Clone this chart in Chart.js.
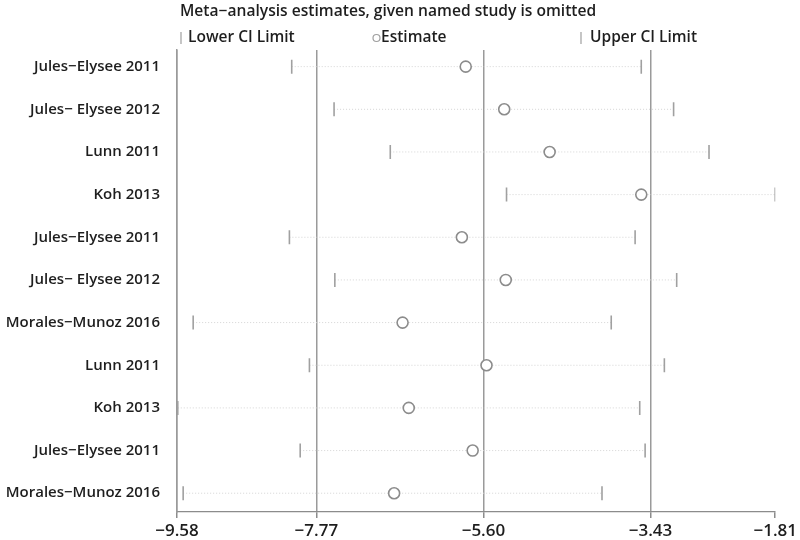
<!DOCTYPE html>
<html>
<head>
<meta charset="utf-8">
<script src="https://cdn.jsdelivr.net/npm/chart.js@4.4.1/dist/chart.umd.min.js"></script>
<style>
    html, body { margin: 0; padding: 0; background: #ffffff; }
    #wrap { width: 800px; height: 540px; }
</style>
</head>
<body>
<div id="wrap"><canvas id="chart" width="800" height="540"></canvas></div>
<script>
const studies = [
    "Jules−Elysee 2011", "Jules− Elysee 2012", "Lunn 2011", "Koh 2013",
    "Jules−Elysee 2011", "Jules− Elysee 2012", "Morales−Munoz 2016", "Lunn 2011",
    "Koh 2013", "Jules−Elysee 2011", "Morales−Munoz 2016"
];
const lowerCI = [-8.09, -7.54, -6.81, -5.30, -8.12, -7.53, -9.37, -7.86, -9.57, -7.98, -9.50];
const estimate = [-5.83, -5.33, -4.74, -3.55, -5.88, -5.31, -6.65, -5.56, -6.57, -5.74, -6.76];
const upperCI = [-3.55, -3.13, -2.67, -1.81, -3.63, -3.09, -3.94, -3.25, -3.57, -3.50, -4.06];
const xTicks = [-9.58, -7.77, -5.60, -3.43, -1.81];
const refLines = [-9.58, -7.77, -5.60, -3.43];

const FONT = "'Open Sans', 'DejaVu Sans', sans-serif";
const GRAY = "#8c8c8c";

// dotted span per row, broken by null points
const spanData = [];
studies.forEach((s, i) => {
    spanData.push({ x: lowerCI[i], y: i });
    spanData.push({ x: upperCI[i], y: i });
    spanData.push({ x: upperCI[i], y: null });
});

const headerPlugin = {
    id: "header",
    afterDraw(chart) {
        const ctx = chart.ctx;
        ctx.save();
        ctx.fillStyle = "#1e1e1e";
        ctx.textBaseline = "middle";
        ctx.textAlign = "left";
        ctx.font = `600 15.6px ${FONT}`;
        ctx.fillText("Meta−analysis estimates, given named study is omitted", 180, 12);

        ctx.font = `600 15.5px ${FONT}`;
        ctx.strokeStyle = "#a0a0a0";
        ctx.lineWidth = 1.2;
        ctx.beginPath();
        ctx.moveTo(181, 32); ctx.lineTo(181, 44);
        ctx.moveTo(581, 32); ctx.lineTo(581, 44);
        ctx.stroke();
        ctx.beginPath();
        ctx.arc(376.5, 38, 3.5, 0, Math.PI * 2);
        ctx.stroke();
        ctx.fillText("Lower CI Limit", 188, 38);
        ctx.fillText("Estimate", 381, 38);
        ctx.fillText("Upper CI Limit", 590, 38);
        ctx.restore();
    }
};

const pt = (xs) => xs.map((x, i) => ({ x, y: i }));

new Chart(document.getElementById("chart"), {
    type: "scatter",
    data: {
        datasets: [
            {
                label: "span",
                type: "line",
                data: spanData,
                borderColor: "#d4d4d4",
                borderWidth: 1,
                borderDash: [1, 2],
                pointRadius: 0,
                spanGaps: false,
                order: 4,
            },
            {
                label: "Lower CI Limit",
                data: pt(lowerCI),
                pointStyle: "line",
                rotation: 90,
                radius: 7,
                borderColor: "#a0a0a0",
                borderWidth: 1.6,
                order: 2,
            },
            {
                label: "Upper CI Limit",
                data: pt(upperCI),
                pointStyle: "line",
                rotation: 90,
                radius: 7,
                borderColor: "#a0a0a0",
                borderWidth: 1.6,
                order: 2,
            },
            {
                label: "Estimate",
                data: pt(estimate),
                pointStyle: "circle",
                radius: 5.5,
                backgroundColor: "#ffffff",
                borderColor: GRAY,
                borderWidth: 1.6,
                order: 1,
            },
        ],
    },
    options: {
        responsive: false,
        animation: false,
        layout: { padding: { top: 50, right: 23, bottom: 0, left: 0 } },
        plugins: {
            legend: { display: false },
            tooltip: { enabled: false },
        },
        scales: {
            x: {
                type: "linear",
                min: -9.58,
                max: -1.81,
                afterBuildTicks(scale) {
                    scale.ticks = xTicks.map((v) => ({ value: v }));
                },
                afterFit(scale) { scale.height = 28; },
                ticks: {
                    color: "#1e1e1e",
                    font: { family: FONT, size: 17, weight: "600" },
                    padding: 3,
                    maxRotation: 0,
                    autoSkip: false,
                    callback: (v) => (v < 0 ? "−" : "") + Math.abs(v).toFixed(2),
                },
                grid: {
                    color: (c) => (c.tick && refLines.includes(c.tick.value) ? "#9a9a9a" : "rgba(0,0,0,0)"),
                    lineWidth: 1.5,
                    tickColor: GRAY,
                    tickLength: 6,
                },
                border: { display: true, color: GRAY, width: 1.2 },
            },
            y: {
                type: "linear",
                reverse: true,
                min: -0.39,
                max: 10.44,
                afterBuildTicks(scale) {
                    scale.ticks = studies.map((s, i) => ({ value: i }));
                },
                afterFit(scale) { scale.width = 177; },
                ticks: {
                    color: "#1e1e1e",
                    font: { family: FONT, size: 15, weight: "600" },
                    padding: 9,
                    autoSkip: false,
                    callback: (v) => studies[v],
                },
                grid: { display: false },
                border: { display: true, color: "#9a9a9a", width: 1.5 },
            },
        },
    },
    plugins: [headerPlugin],
});
</script>
</body>
</html>
